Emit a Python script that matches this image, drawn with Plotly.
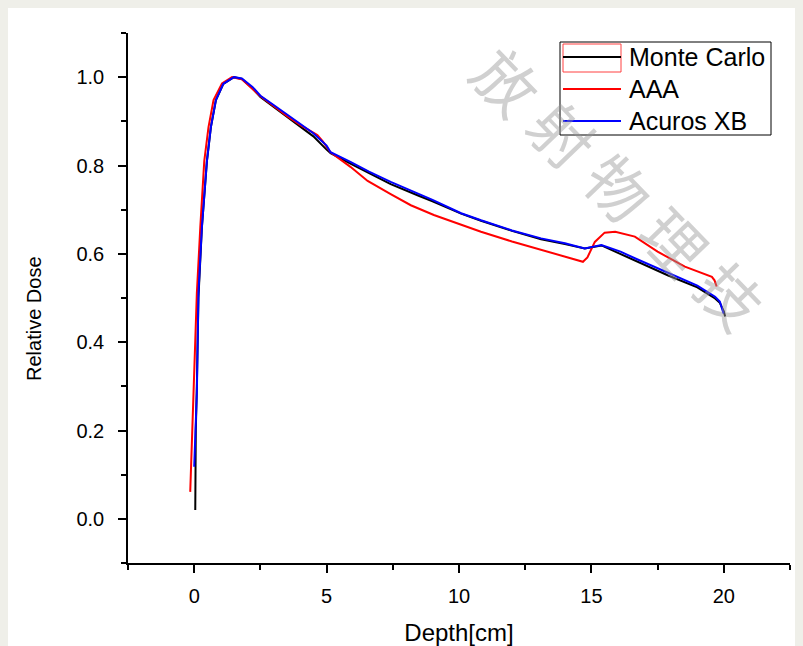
import plotly.graph_objects as go

# Monte Carlo (black)
mc_x = [0.04, 0.06, 0.10, 0.16, 0.29, 0.48, 0.63, 0.82, 1.10, 1.50, 1.80, 2.20, 2.50, 3.00, 3.50, 4.00, 4.50,
        5.00, 5.15, 5.90, 6.60, 7.42, 8.50, 9.00, 10.08, 10.83, 12.00, 13.10, 14.00, 14.75, 15.38, 16.10, 16.64,
        17.90, 19.00, 19.67, 19.85, 20.00, 20.05]
mc_y = [0.020, 0.200, 0.300, 0.500, 0.660, 0.810, 0.887, 0.948, 0.985, 1.000, 0.996, 0.975, 0.955, 0.933, 0.910,
        0.890, 0.866, 0.836, 0.828, 0.804, 0.782, 0.758, 0.731, 0.719, 0.691, 0.675, 0.652, 0.633, 0.622, 0.612,
        0.619, 0.600, 0.585, 0.551, 0.524, 0.499, 0.489, 0.470, 0.458]

# AAA (red)
aaa_x = [-0.15, -0.03, 0.10, 0.23, 0.38, 0.54, 0.73, 1.05, 1.43, 1.80, 2.50, 3.00, 3.50, 4.00, 4.65, 4.85,
         5.15, 5.90, 6.55, 7.42, 8.18, 9.05, 10.08, 10.83, 12.00, 13.10, 14.00, 14.68, 14.85, 15.13, 15.50,
         15.90, 16.64, 17.50, 18.53, 19.20, 19.55, 19.65, 19.73]
aaa_y = [0.061, 0.285, 0.511, 0.660, 0.810, 0.887, 0.948, 0.986, 1.000, 0.995, 0.957, 0.935, 0.912, 0.892, 0.869,
         0.855, 0.830, 0.797, 0.765, 0.735, 0.710, 0.688, 0.665, 0.650, 0.628, 0.609, 0.595, 0.582, 0.592, 0.627,
         0.648, 0.650, 0.639, 0.605, 0.571, 0.556, 0.548, 0.540, 0.526]

# Acuros XB (blue)
axb_x = [0.00, 0.10, 0.16, 0.29, 0.48, 0.63, 0.82, 1.10, 1.50, 1.80, 2.20, 2.50, 3.00, 3.50, 4.00, 4.50,
         5.00, 5.15, 5.90, 6.60, 7.42, 8.50, 9.00, 10.08, 10.83, 12.00, 13.10, 14.00, 14.75, 15.38, 16.10, 16.64,
         17.90, 19.00, 19.67, 19.85, 19.99]
axb_y = [0.118, 0.285, 0.511, 0.660, 0.810, 0.887, 0.948, 0.985, 1.000, 0.997, 0.978, 0.958, 0.937, 0.915,
         0.895, 0.873, 0.845, 0.830, 0.808, 0.786, 0.763, 0.735, 0.722, 0.692, 0.676, 0.653, 0.635, 0.624, 0.612,
         0.620, 0.605, 0.590, 0.556, 0.528, 0.503, 0.492, 0.465]

series_names = ["Monte Carlo", "AAA", "Acuros XB"]
series_colors = ["#000000", "#FF0000", "#0000FF"]

x_ticks = [0, 5, 10, 15, 20]
y_ticks = [0.0, 0.2, 0.4, 0.6, 0.8, 1.0]

watermark_chars = ["放", "射", "物", "理", "技"]

FONT = "Liberation Sans, Arial, sans-serif"

W, H = 803, 646
ML, MR, MT, MB = 128, 13, 33, 83
PW, PH = W - ML - MR, H - MT - MB


def px(x):
    return (x - ML) / PW


def py(y):
    return (H - MB - y) / PH


fig = go.Figure()
for name, xs, ys, col in zip(series_names, [mc_x, aaa_x, axb_x], [mc_y, aaa_y, axb_y], series_colors):
    fig.add_trace(go.Scatter(x=xs, y=ys, mode="lines", name=name, showlegend=False,
                             line=dict(color=col, width=2)))

axis_common = dict(showgrid=False, zeroline=False, showline=True, linecolor="black", linewidth=1.5,
                   ticks="outside", ticklen=8, tickwidth=1.5, tickcolor="black", automargin=False,
                   tickfont=dict(family=FONT, size=20, color="black"))

fig.update_layout(
    width=W, height=H,
    margin=dict(l=ML, r=MR, t=MT, b=MB),
    paper_bgcolor="#EFEFE9",
    plot_bgcolor="white",
    showlegend=False,
    xaxis=dict(range=[-2.5, 22.5], tickvals=x_ticks, ticktext=[str(v) for v in x_ticks],
               minor=dict(dtick=2.5, tick0=0, ticks="outside", ticklen=5, tickwidth=1.5, tickcolor="black"),
               title=dict(text="Depth[cm]", font=dict(family=FONT, size=24, color="black"), standoff=23),
               ticklabelstandoff=6,
               **axis_common),
    yaxis=dict(range=[-0.1, 1.1], tickvals=y_ticks, ticktext=[f"{v:.1f}" for v in y_ticks],
               minor=dict(dtick=0.1, tick0=0, ticks="outside", ticklen=5, tickwidth=1.5, tickcolor="black"),
               ticklabelstandoff=10,
               **axis_common),
    font=dict(family=FONT, color="black"),
)

# y-axis title (placed like the original, slightly below the axis centre)
fig.add_annotation(text="Relative Dose", xref="paper", yref="paper",
                   x=px(34), y=py(318), xanchor="center", yanchor="middle",
                   showarrow=False, textangle=-90,
                   font=dict(family=FONT, size=20, color="black"))

# white panel behind the figure
fig.add_shape(type="rect", xref="paper", yref="paper",
              x0=px(8), x1=px(795), y0=py(700), y1=py(8),
              fillcolor="white", line=dict(width=0), layer="below")

# watermark, one rotated character at a time along the diagonal
wm_pos = [(508, 80), (564, 133), (620, 186), (676, 240), (732, 294)]
for ch, (wx, wy) in zip(watermark_chars, wm_pos):
    fig.add_annotation(text=ch, xref="paper", yref="paper",
                       x=px(wx), y=py(wy), xanchor="center", yanchor="middle",
                       showarrow=False, textangle=46,
                       font=dict(family="Noto Sans CJK SC", size=62, color="rgba(150,150,150,0.45)"))

# legend box (drawn in paper coordinates)
fig.add_shape(type="rect", xref="paper", yref="paper",
              x0=px(560), x1=px(771), y0=py(135), y1=py(42),
              fillcolor="rgba(255,255,255,0)", line=dict(color="black", width=1))
fig.add_shape(type="rect", xref="paper", yref="paper",
              x0=px(563), x1=px(621), y0=py(72), y1=py(44),
              fillcolor="rgba(255,255,255,0)", line=dict(color="#FF4040", width=1))
leg_y = [57, 89, 121]
for name, col, yy in zip(series_names, series_colors, leg_y):
    fig.add_shape(type="line", xref="paper", yref="paper",
                  x0=px(563), x1=px(621), y0=py(yy), y1=py(yy),
                  line=dict(color=col, width=2))
    fig.add_annotation(text=name, xref="paper", yref="paper", x=px(627), y=py(yy),
                       xanchor="left", yanchor="middle", showarrow=False,
                       font=dict(family=FONT, size=25, color="black"))

fig.write_html("out.html", config={"displayModeBar": False},
               post_script="document.body.style.margin='0';document.body.style.padding='0';")
